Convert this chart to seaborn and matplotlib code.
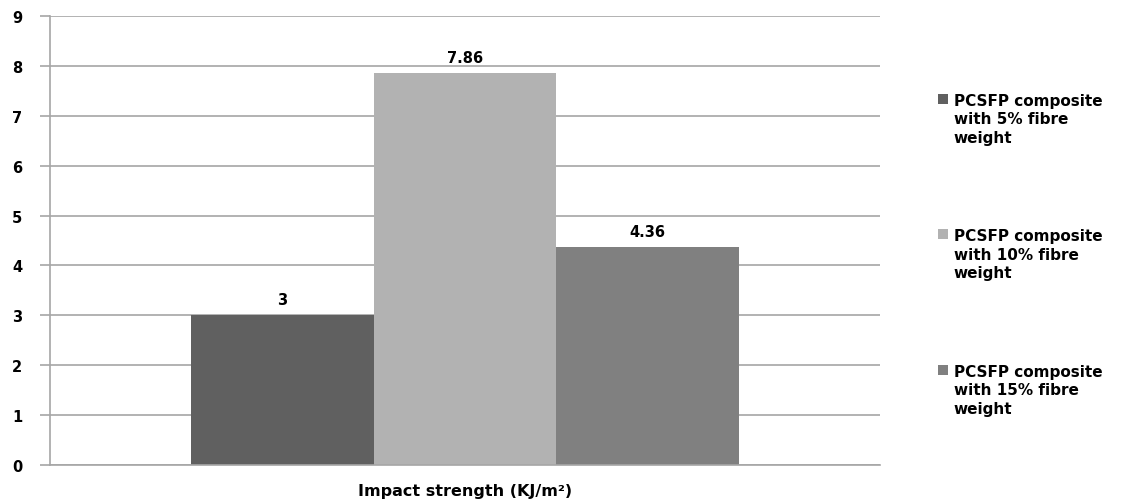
import matplotlib
matplotlib.use("Agg")
import matplotlib.pyplot as plt
import seaborn as sns
import pandas as pd
from matplotlib.patches import Rectangle
from matplotlib.legend_handler import HandlerPatch

# Chart data
category = ["Impact strength (KJ/m\u00b2)"]
series = [
    "PCSFP composite\nwith 5% fibre\nweight",
    "PCSFP composite\nwith 10% fibre\nweight",
    "PCSFP composite\nwith 15% fibre\nweight",
]
values = [3, 7.86, 4.36]
bar_colors = ["#606060", "#b2b2b2", "#808080"]
y_ticks = list(range(0, 10))

df = pd.DataFrame({
    "category": category * len(series),
    "series": series,
    "value": values,
})

sns.set_theme(style="white")
plt.rcParams["font.family"] = ["DejaVu Sans"]
plt.rcParams["font.weight"] = "bold"
plt.rcParams["text.color"] = "black"

fig = plt.figure(figsize=(11.28, 5.02), dpi=100)
ax = fig.add_axes([50 / 1128, 1 - 466 / 502, 830 / 1128, 449 / 502])

sns.barplot(data=df, x="category", y="value", hue="series",
            hue_order=series, palette=bar_colors, width=0.66,
            saturation=1, ax=ax, legend=False, edgecolor="none")

ax.set_ylim(0, 9)
ax.set_xlim(-0.5, 0.5)
ax.set_yticks(y_ticks)
ax.yaxis.grid(True, color="#a6a6a6", linewidth=1.2)
ax.set_axisbelow(True)
for s in ["top", "right"]:
    ax.spines[s].set_visible(False)
for s in ["left", "bottom"]:
    ax.spines[s].set_color("#a6a6a6")
    ax.spines[s].set_linewidth(1.2)
ax.tick_params(axis="y", which="major", left=True, length=7, width=1.2,
               color="#a6a6a6", labelsize=10.5, pad=13, labelcolor="black")
ax.tick_params(axis="x", bottom=False, labelsize=11.5, pad=7, labelcolor="black")
for lbl in ax.get_yticklabels() + ax.get_xticklabels():
    lbl.set_fontweight("bold")
ax.set_xlabel("")
ax.set_ylabel("")

# Value labels above each bar
for container in ax.containers:
    ax.bar_label(container, labels=[f"{v:g}" for v in container.datavalues],
                 padding=6, fontsize=10.5, fontweight="bold", color="black")

# Legend with the swatch aligned to the first text line
LEG_FS = 11
LEG_LINESPACING = 1.3

def top_square(legend, orig_handle, xdescent, ydescent, width, height, fontsize):
    size = 7.2
    center = (2 * LEG_LINESPACING + 0.35) * fontsize - 13.7
    return Rectangle((width - size - 1, center - size / 2), size, size)

handles = [Rectangle((0, 0), 1, 1, facecolor=c, edgecolor="none") for c in bar_colors]
leg = fig.legend(handles, series, loc="upper left",
                 bbox_to_anchor=(917 / 1128, 1 - 80 / 502),
                 frameon=False, labelspacing=5.45,
                 handlelength=1.2, handleheight=2.6, handletextpad=0.3,
                 handler_map={Rectangle: HandlerPatch(patch_func=top_square)},
                 prop={"weight": "bold", "size": LEG_FS})
for t in leg.get_texts():
    t.set_linespacing(LEG_LINESPACING)

fig.savefig("out.png", dpi=100, facecolor="white")
